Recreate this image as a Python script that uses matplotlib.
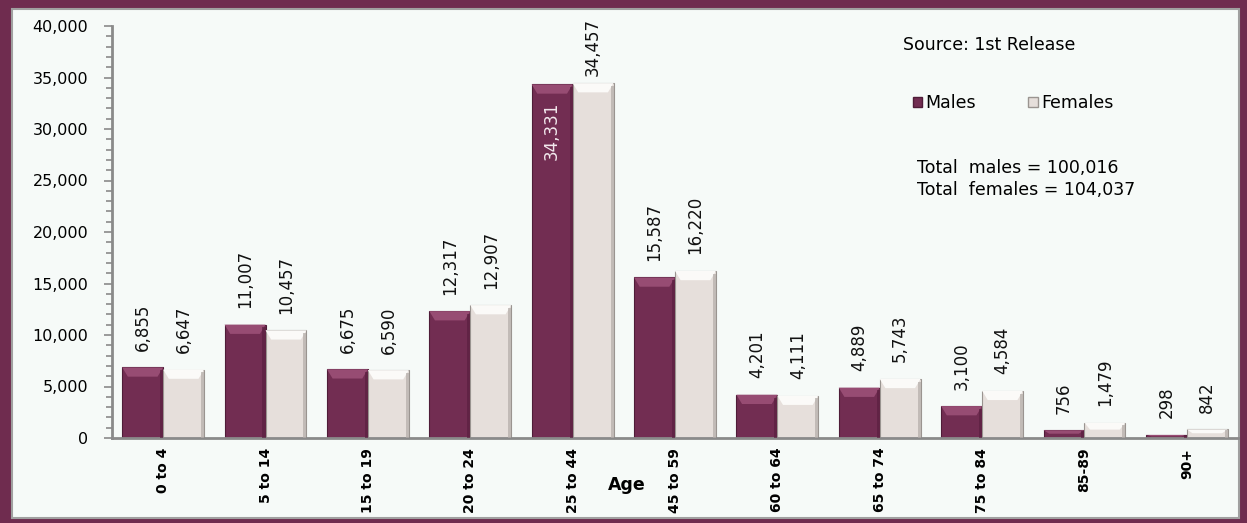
import matplotlib.pyplot as plt
from matplotlib.patches import Rectangle, Patch, Polygon
import numpy as np

plt.rcParams['font.family'] = ['DejaVu Sans']

ages = ["0 to 4", "5 to 14", "15 to 19", "20 to 24", "25 to 44", "45 to 59",
        "60 to 64", "65 to 74", "75 to 84", "85-89", "90+"]
males = [6855, 11007, 6675, 12317, 34331, 15587, 4201, 4889, 3100, 756, 298]
females = [6647, 10457, 6590, 12907, 34457, 16220, 4111, 5743, 4584, 1479, 842]

maroon = "#722d52"
light = "#e6dfdb"
border = "#6f2c4f"
panel = "#f6faf8"

fig = plt.figure(figsize=(12.47, 5.23), dpi=100)
fig.patch.set_facecolor(border)
fig.patches.append(Rectangle((12 / 1247, 5 / 523), 1227 / 1247, 509 / 523,
                             transform=fig.transFigure, facecolor=panel,
                             edgecolor="#a0a0a0", lw=1.5, zorder=-5))

ax = fig.add_axes([112 / 1247, 1 - 438 / 523, 1126 / 1247, 412 / 523])
ax.set_zorder(2)
ax.set_facecolor("none")

x = np.arange(len(ages))
w = 0.40
ax.bar(x - w / 2, males, w, color=maroon, edgecolor="#4f1c38", lw=0.8, zorder=2)
ax.bar(x + w / 2, females, w, color=light, edgecolor="#9a9490", lw=0.8, zorder=2)

# bevel: lighter trapezoid at the top, darker strip on the right side
styles = [(x - w / 2, males, "#974c73", "#5a2040"),
          (x + w / 2, females, "#fbfaf8", "#b3ada9")]
for xs, vals, hi, sh in styles:
    for xi, v in zip(xs, vals):
        x0, x1 = xi - w / 2, xi + w / 2
        dh = min(900, v * 0.45)
        dx = 0.055
        ax.add_patch(Polygon([(x0, v), (x1, v), (x1 - dx, v - dh), (x0 + dx, v - dh)],
                             closed=True, facecolor=hi, lw=0, zorder=3))
        ax.add_patch(Rectangle((x1 - 0.03, 0), 0.03, v - dh * 0.3,
                               facecolor=sh, lw=0, zorder=3, alpha=0.7))

for xs, vals, col in [(x - w / 2, males, "m"), (x + w / 2, females, "f")]:
    for xi, v in zip(xs, vals):
        lab = f"{v:,}"
        if v > 34000 and col == "m":
            ax.text(xi, v - 1700, lab, rotation=90, ha="center", va="top",
                    fontsize=12, color="#f3e9ee", zorder=4)
        elif v > 33000:
            # no room above: pinned just under the top of the frame
            ax.text(xi, 40800, lab, rotation=90, ha="center", va="top",
                    fontsize=12, color="#111111", zorder=4, clip_on=False)
        else:
            ax.text(xi, v + 1600, lab, rotation=90, ha="center", va="bottom",
                    fontsize=12, color="#111111", zorder=4)

ax.set_xlim(-0.5, len(ages) - 0.5)
ax.set_ylim(0, 40000)
ax.set_yticks(np.arange(0, 40001, 5000))
ax.set_yticks(np.arange(0, 40001, 1000), minor=True)
ax.set_yticklabels([f"{v:,}" for v in range(0, 40001, 5000)], fontsize=11.5)
ax.set_xticks(x)
ax.set_xticklabels(ages, rotation=90, fontsize=10, fontweight="bold", va="top")
ax.tick_params(axis="x", length=0, pad=7)
ax.tick_params(axis="y", which="major", length=6, width=1.2, color="#8a8a8a", pad=11)
ax.tick_params(axis="y", which="minor", length=4, width=1.2, color="#8a8a8a")
for s in ["top", "right"]:
    ax.spines[s].set_visible(False)
for s in ["left", "bottom"]:
    ax.spines[s].set_color("#8a8a8a")
    ax.spines[s].set_linewidth(2)

fig.text(627 / 1247, 1 - 485 / 523, "Age", ha="center", va="center",
         fontsize=12.5, fontweight="bold")

fig.text(903 / 1247, 1 - 45 / 523, "Source: 1st Release", ha="left", va="center", fontsize=12.5)
fig.text(917 / 1247, 1 - 168 / 523, "Total  males = 100,016", ha="left", va="center", fontsize=12.5)
fig.text(917 / 1247, 1 - 190 / 523, "Total  females = 104,037", ha="left", va="center", fontsize=12.5)

handles = [Patch(facecolor=maroon, edgecolor="#4f1c38"), Patch(facecolor=light, edgecolor="#9a9490")]
fig.legend(handles, ["Males", "Females"], loc="center left",
           bbox_to_anchor=(897 / 1247, 1 - 103 / 523), ncol=2, frameon=False,
           fontsize=12.5, handlelength=0.55, handleheight=0.55, handletextpad=0.2,
           columnspacing=3.0)

fig.savefig("out.png", dpi=100, facecolor=fig.get_facecolor())
